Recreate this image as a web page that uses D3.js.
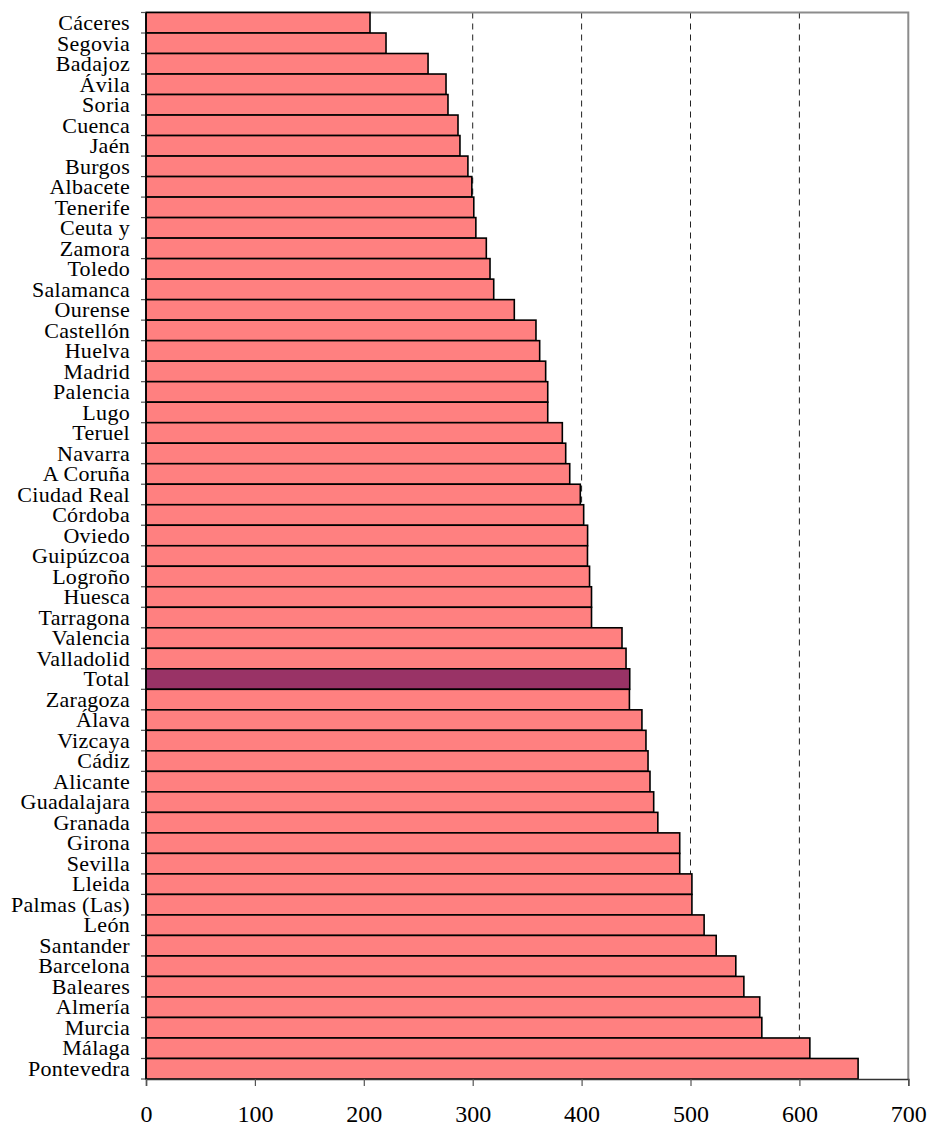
<!DOCTYPE html>
<html>
<head>
<meta charset="utf-8">
<script src="https://cdn.jsdelivr.net/npm/d3@7"></script>
<style>
  html, body { margin: 0; padding: 0; background: #fff; }
  svg { display: block; }
  text { font-family: "Liberation Serif", "Times New Roman", serif; fill: #000; }
</style>
</head>
<body>
<svg id="chart" width="930" height="1128"></svg>
<script>
// Provinces, ordered from lowest to highest value
const categories = [
  "Cáceres", "Segovia", "Badajoz", "Ávila", "Soria", "Cuenca", "Jaén", "Burgos",
  "Albacete", "Tenerife", "Ceuta y", "Zamora", "Toledo", "Salamanca", "Ourense",
  "Castellón", "Huelva", "Madrid", "Palencia", "Lugo", "Teruel", "Navarra",
  "A Coruña", "Ciudad Real", "Córdoba", "Oviedo", "Guipúzcoa", "Logroño", "Huesca",
  "Tarragona", "Valencia", "Valladolid", "Total", "Zaragoza", "Álava", "Vizcaya",
  "Cádiz", "Alicante", "Guadalajara", "Granada", "Girona", "Sevilla", "Lleida",
  "Palmas (Las)", "León", "Santander", "Barcelona", "Baleares", "Almería", "Murcia",
  "Málaga", "Pontevedra"
];

const values = [
  205.7, 220.4, 259.0, 275.5, 277.3, 286.5, 288.3, 295.6,
  299.2, 301.0, 302.9, 312.5, 315.9, 319.3, 338.2,
  358.1, 361.5, 367.0, 368.9, 368.9, 382.3, 385.4,
  389.1, 398.8, 401.9, 405.5, 405.4, 407.3, 409.1,
  409.1, 437.1, 440.8, 444.2, 443.9, 455.4, 459.1,
  461.0, 462.8, 466.2, 470.0, 490.1, 490.1, 501.3,
  501.3, 512.5, 523.6, 541.6, 549.0, 563.6, 565.5,
  609.6, 653.9
];

const xTicks = [0, 100, 200, 300, 400, 500, 600, 700];
const gridValues = [100, 200, 300, 400, 500, 600];
const highlight = "Total";

const rows = categories.map((c, i) => ({ name: c, value: values[i] }));

const plotLeft = 146, plotRight = 908.3, plotTop = 12.5, plotBottom = 1079;

const svg = d3.select("#chart");

const x = d3.scaleLinear().domain([0, 700]).range([plotLeft, plotRight]);
const y = d3.scaleBand().domain(categories).range([plotTop, plotBottom]).paddingInner(0).paddingOuter(0);

// dashed vertical gridlines
svg.append("g")
  .selectAll("line")
  .data(gridValues)
  .join("line")
  .attr("x1", d => x(d)).attr("x2", d => x(d))
  .attr("y1", plotTop).attr("y2", plotBottom)
  .attr("stroke", "#222")
  .attr("stroke-width", 1)
  .attr("stroke-dasharray", "6,5");

// plot frame: top and right edges
svg.append("path")
  .attr("d", `M${plotLeft},${plotTop}H${plotRight}V${plotBottom}`)
  .attr("fill", "none")
  .attr("stroke", "#8c8c8c")
  .attr("stroke-width", 2);

// bars
svg.append("g")
  .selectAll("rect")
  .data(rows)
  .join("rect")
  .attr("x", x(0))
  .attr("y", d => y(d.name))
  .attr("width", d => x(d.value) - x(0))
  .attr("height", y.bandwidth())
  .attr("fill", d => d.name === highlight ? "#993366" : "#FF8080")
  .attr("stroke", "#000")
  .attr("stroke-width", 1.6);

// bottom axis
const xAxis = svg.append("g")
  .attr("transform", `translate(0,${plotBottom})`)
  .call(d3.axisBottom(x).tickValues(xTicks).tickSize(7).tickPadding(19).tickFormat(d3.format("d")));
xAxis.select(".domain").attr("stroke", "#333").attr("stroke-width", 1.5);
xAxis.selectAll(".tick line").attr("stroke", "#555").attr("stroke-width", 1.2);
xAxis.selectAll(".tick text")
  .style("font-family", '"Liberation Serif", "Times New Roman", serif')
  .style("font-size", "24px")
  .attr("fill", "#000");

// left axis: ticks at category boundaries
const boundaries = categories.map(c => y(c)).concat([plotBottom]);
const yAxis = svg.append("g");
yAxis.selectAll("line.tick")
  .data(boundaries)
  .join("line")
  .attr("class", "tick")
  .attr("x1", plotLeft - 5).attr("x2", plotLeft)
  .attr("y1", d => d).attr("y2", d => d)
  .attr("stroke", "#555")
  .attr("stroke-width", 1.2);
yAxis.append("line")
  .attr("x1", plotLeft).attr("x2", plotLeft)
  .attr("y1", plotTop).attr("y2", plotBottom)
  .attr("stroke", "#000")
  .attr("stroke-width", 1.5);

// category labels
yAxis.selectAll("text")
  .data(categories)
  .join("text")
  .attr("x", 130)
  .attr("y", d => y(d) + y.bandwidth() / 2)
  .attr("dy", "0.33em")
  .attr("text-anchor", "end")
  .style("font-size", "22px")
  .style("letter-spacing", "0.3px")
  .text(d => d);
</script>
</body>
</html>
